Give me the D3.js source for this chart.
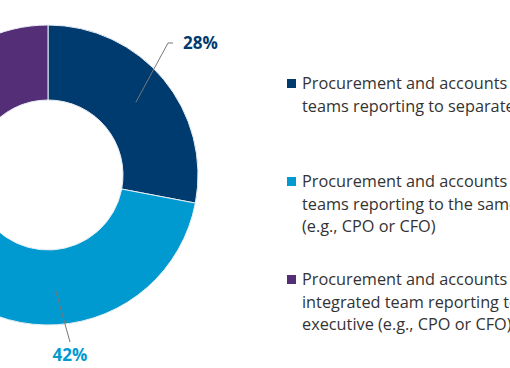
<!DOCTYPE html>
<html>
<head>
<meta charset="utf-8">
<script src="https://cdn.jsdelivr.net/npm/d3@7"></script>
<style>
  html, body { margin: 0; padding: 0; background: #fff; }
  svg { display: block; font-family: "Open Sans", "Noto Sans", sans-serif; }
</style>
</head>
<body>
<svg width="510" height="368"></svg>
<script>
const categories = ["separate", "same", "integrated"];
const values = [28, 42, 30];
const colors = ["#003b6f", "#009ad0", "#542f78"];
const labels = ["28%", "42%", ""];
const legendLines = [
  ["Procurement and accounts payable", "teams reporting to separate executives"],
  ["Procurement and accounts payable", "teams reporting to the same executive", "(e.g., CPO or CFO)"],
  ["Procurement and accounts payable", "integrated team reporting to the same", "executive (e.g., CPO or CFO)"],
];

const svg = d3.select("svg");
const cx = 48, cy = 175, outerR = 150, innerR = 75;

const pie = d3.pie().sort(null).value((d) => d);
const arcs = pie(values);
const arc = d3.arc().innerRadius(innerR).outerRadius(outerR);

const chart = svg.append("g").attr("transform", `translate(${cx},${cy})`);

chart
  .selectAll("path.slice")
  .data(arcs)
  .join("path")
  .classed("slice", true)
  .attr("d", arc)
  .attr("fill", (d, i) => colors[i])
  .attr("stroke", "#e8eef4")
  .attr("stroke-width", 1);

// leader lines start at the slice centroid on a radius of ~114
const startArc = d3.arc().innerRadius(114).outerRadius(114);

const leaders = [
  { i: 0, tip: [173, 43], elbow: 5, text: [183, 49], anchor: "start" },
  { i: 1, tip: [70, 342], elbow: 0, text: [70, 361], anchor: "middle" },
];

leaders.forEach((l) => {
  const [x0, y0] = startArc.centroid(arcs[l.i]);
  const tx = l.tip[0] - cx, ty = l.tip[1] - cy;
  const pts = l.elbow
    ? [[x0, y0], [tx - l.elbow, ty], [tx, ty]]
    : [[x0, y0], [tx, ty]];
  chart
    .append("path")
    .attr("d", d3.line()(pts))
    .attr("fill", "none")
    .attr("stroke", "#777")
    .attr("stroke-width", 1);
  svg
    .append("text")
    .attr("x", l.text[0])
    .attr("y", l.text[1])
    .attr("text-anchor", l.anchor)
    .attr("font-size", 17)
    .attr("font-weight", 700)
    .attr("fill", colors[l.i])
    .text(labels[l.i]);
});

// legend
const legendTop = [89, 187, 285];
const legend = svg
  .selectAll("g.legend")
  .data(categories)
  .join("g")
  .classed("legend", true)
  .attr("transform", (d, i) => `translate(287,${legendTop[i]})`);

legend
  .append("rect")
  .attr("x", 0)
  .attr("y", -10)
  .attr("width", 9)
  .attr("height", 9)
  .attr("fill", (d, i) => colors[i]);

legend
  .append("text")
  .attr("x", 15)
  .attr("font-size", 16.3)
  .attr("fill", "#333")
  .selectAll("tspan")
  .data((d, i) => legendLines[i])
  .join("tspan")
  .attr("x", 15)
  .attr("y", (d, j) => j * 22.5)
  .text((d) => d);
</script>
</body>
</html>
